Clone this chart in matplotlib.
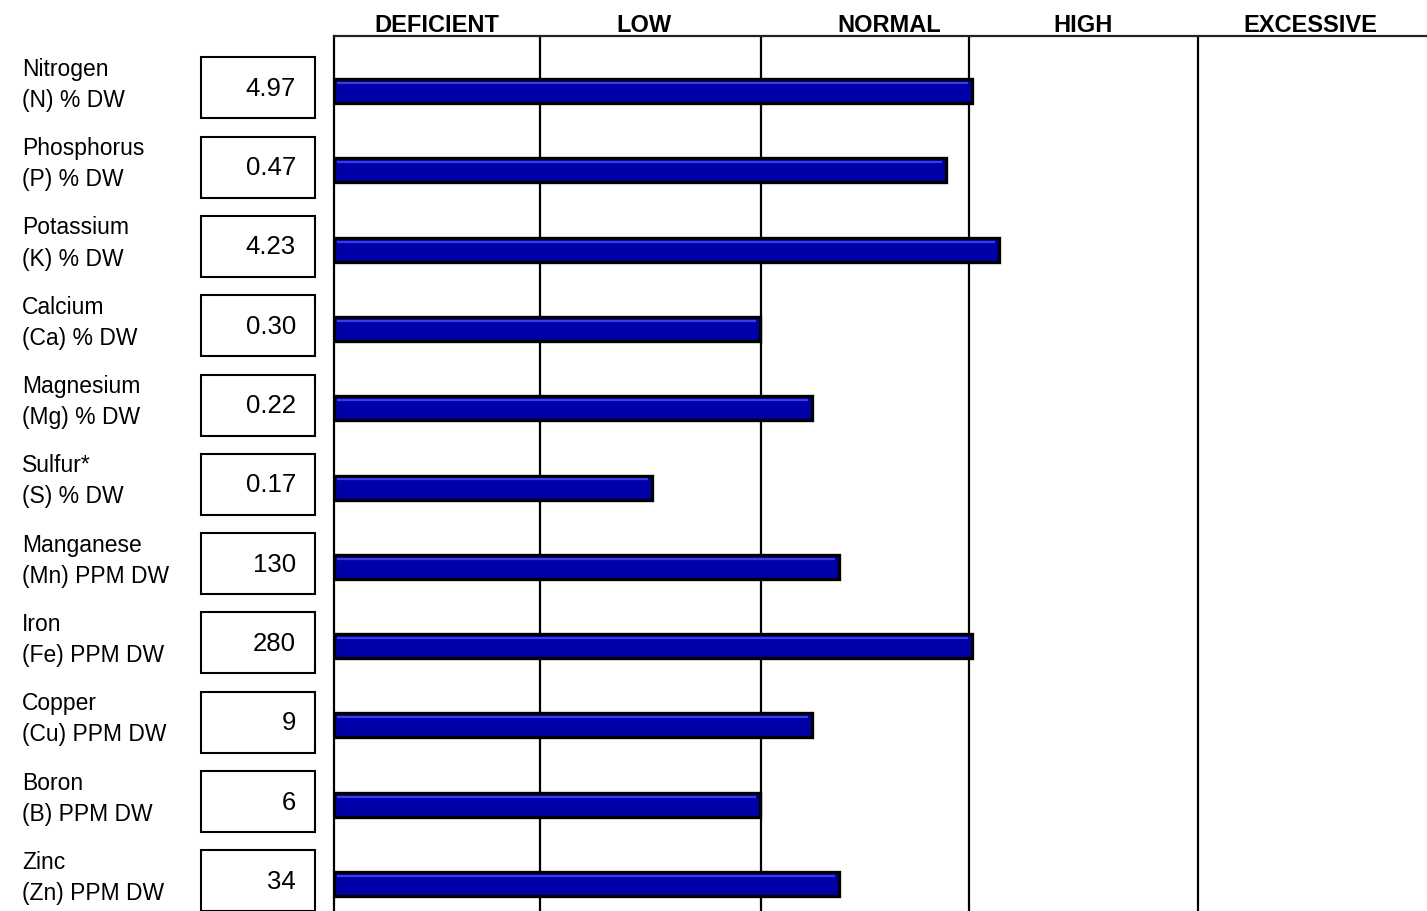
import matplotlib
matplotlib.use("Agg")
import matplotlib.pyplot as plt
from matplotlib.patches import Rectangle

plt.rcParams["font.family"] = ["Liberation Sans", "DejaVu Sans"]

# ---- data -------------------------------------------------------------
nutrients = ["Nitrogen", "Phosphorus", "Potassium", "Calcium", "Magnesium",
             "Sulfur*", "Manganese", "Iron", "Copper", "Boron", "Zinc"]
units = ["(N) % DW", "(P) % DW", "(K) % DW", "(Ca) % DW", "(Mg) % DW",
         "(S) % DW", "(Mn) PPM DW", "(Fe) PPM DW", "(Cu) PPM DW",
         "(B) PPM DW", "(Zn) PPM DW"]
values = ["4.97", "0.47", "4.23", "0.30", "0.22", "0.17", "130", "280", "9", "6", "34"]
# bar length on a 0-100 sufficiency scale
scores = [58.4, 56.0, 60.8, 39.0, 43.7, 29.1, 46.2, 58.4, 43.7, 39.0, 46.2]
zones = ["DEFICIENT", "LOW", "NORMAL", "HIGH", "EXCESSIVE"]
zone_edges = [18.85, 39.1, 58.1, 79.05]

# ---- layout -----------------------------------------------------------
W, H = 1427, 912
LEFT_PX, TOP_PX = 334, 37
ROW0_PX, ROW_STEP = 92, 79.3
header_x = [9.4, 28.4, 50.8, 68.5, 89.3]
BAR_COLOR = "#0000a8"
HILITE = "#3c3ce6"

n = len(nutrients)
ylim = ((H - ROW0_PX) / ROW_STEP, (TOP_PX - ROW0_PX) / ROW_STEP)

fig = plt.figure(figsize=(W / 100, H / 100), dpi=100)
ax = fig.add_axes([LEFT_PX / W, 0, 1 - LEFT_PX / W, (H - TOP_PX) / H])
axl = fig.add_axes([0, 0, LEFT_PX / W, (H - TOP_PX) / H])

# main bar panel
rows = list(range(n))
bh = 24 / ROW_STEP
ax.barh(rows, scores, height=bh, color=BAR_COLOR, edgecolor="black",
        linewidth=2.4, zorder=3)
ax.hlines([r - bh / 2 + 0.05 for r in rows], 0.25, [s - 0.35 for s in scores],
          color=HILITE, lw=1.6, zorder=4)
for e in zone_edges:
    ax.axvline(e, color="black", lw=1.6, zorder=1)
ax.set_xlim(0, 100)
ax.set_ylim(*ylim)
ax.set_xticks([]); ax.set_yticks([])
for s in ("right", "bottom"):
    ax.spines[s].set_visible(False)
ax.spines["left"].set_linewidth(1.6)
ax.spines["top"].set_linewidth(1.6)
ax.spines["top"].set_color("#222222")
for z, x in zip(zones, header_x):
    ax.text(x, 1 + 11 / (H - TOP_PX), z, transform=ax.get_xaxis_transform(),
            ha="center", va="center", fontsize=17, fontweight="bold")

# left labels + value boxes
axl.set_xlim(0, LEFT_PX)
axl.set_ylim(*ylim)
axl.axis("off")
box_h = 61 / ROW_STEP
for r in rows:
    axl.text(22, r - 0.09, f"{nutrients[r]}\n{units[r]}", ha="left", va="center",
             fontsize=16.5, linespacing=1.45)
    axl.add_patch(Rectangle((201, r - 0.04 - box_h / 2), 114, box_h, fill=False,
                            edgecolor="black", lw=1.5, clip_on=False))
    axl.text(296, r - 0.04, values[r], ha="right", va="center", fontsize=18.5)

fig.savefig("out.png", dpi=100)
